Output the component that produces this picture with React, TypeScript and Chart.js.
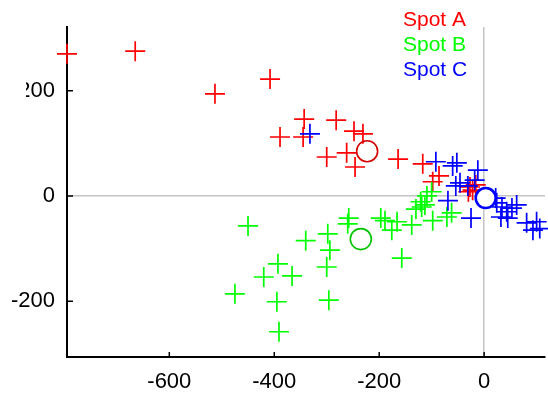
import React, { useEffect, useRef } from "react";
import { Chart, registerables } from "chart.js";

Chart.register(...registerables);

const SERIES_NAMES = ["Spot A", "Spot B", "Spot C"];
const SERIES_COLORS = ["#ff0000", "#00ff00", "#0000ff"];
const MEAN_COLORS = ["#d40000", "#00c400", "#0000e0"];

const X_TICKS = [-600, -400, -200, 0];
const Y_TICKS = [-200, 0, 200];
const X_MIN = -795;
const X_MAX = 116;
const Y_MIN = -306;
const Y_MAX = 321;

const SPOT_A_X = [-795, -665, -513, -408, -343, -282, -389, -345, -248, -231, -300, -262, -246, -164, -117, -86, -98, -27, -22, -16, -30];
const SPOT_A_Y = [270, 275, 194, 222, 146, 144, 112, 112, 123, 118, 74, 82, 55, 70, 61, 38, 27, 17, 11, 21, 8];

const SPOT_B_X = [-475, -450, -420, -393, -395, -391, -366, -340, -298, -294, -300, -296, -258, -260, -197, -189, -166, -176, -157, -138, -121, -113, -109, -100, -119, -98, -71, -62, -130];
const SPOT_B_Y = [-186, -57, -154, -129, -201, -258, -152, -85, -72, -103, -135, -198, -42, -53, -42, -47, -49, -65, -118, -55, -11, -17, 0, 8, -21, -47, -40, -32, -25];

const SPOT_C_X = [-332, -92, -60, -52, -12, -18, -46, -69, -25, -31, -54, 24, 34, 43, 32, 45, 53, 62, 81, 93, 100, 22, 106];
const SPOT_C_Y = [118, 65, 57, 63, 49, 30, 25, -9, -42, 19, 19, -13, -21, -30, -40, -42, -23, -17, -51, -65, -49, -4, -62];

const MEAN_X = [-223, -235, 3];
const MEAN_Y = [85, -82, -4];

const FONT = '"Liberation Sans", Arial, Helvetica, sans-serif';

const toPoints = (xs: number[], ys: number[]) => xs.map((x, i) => ({ x, y: ys[i] }));

const overlayPlugin = {
  id: "overlay",
  afterDraw(chart: any) {
    const { ctx, chartArea: a, scales } = chart;
    ctx.save();
    // inward tick marks
    ctx.strokeStyle = "#000";
    ctx.lineWidth = 1.5;
    ctx.beginPath();
    X_TICKS.forEach((v) => {
      const px = scales.x.getPixelForValue(v);
      ctx.moveTo(px, a.bottom);
      ctx.lineTo(px, a.bottom - 5);
    });
    Y_TICKS.forEach((v) => {
      const py = scales.y.getPixelForValue(v);
      ctx.moveTo(a.left, py);
      ctx.lineTo(a.left + 6, py);
    });
    ctx.stroke();
    // cropped left edge of the figure
    ctx.fillStyle = "#ffffff";
    ctx.fillRect(0, 0, 26, 150);
    // legend (text only)
    ctx.font = `21px ${FONT}`;
    ctx.textAlign = "left";
    ctx.textBaseline = "middle";
    SERIES_NAMES.forEach((name, i) => {
      ctx.fillStyle = SERIES_COLORS[i];
      ctx.fillText(name, 403, 20 + i * 25);
    });
    ctx.restore();
  },
};

export default function App() {
  const ref = useRef<HTMLCanvasElement | null>(null);

  useEffect(() => {
    if (!ref.current) return;
    const crossSets = [
      toPoints(SPOT_A_X, SPOT_A_Y),
      toPoints(SPOT_B_X, SPOT_B_Y),
      toPoints(SPOT_C_X, SPOT_C_Y),
    ];
    const datasets: any[] = [];
    SERIES_NAMES.forEach((name, i) => {
      datasets.push({
        label: name + " mean",
        data: [{ x: MEAN_X[i], y: MEAN_Y[i] }],
        pointStyle: "circle",
        pointRadius: i === 2 ? 10 : 10.5,
        borderColor: i === 2 ? SERIES_COLORS[2] : MEAN_COLORS[i],
        backgroundColor: i === 2 ? "#ffffff" : "rgba(255,255,255,0)",
        borderWidth: i === 2 ? 2.6 : 1.6,
        showLine: false,
        clip: false,
        order: 0,
      });
    });
    SERIES_NAMES.forEach((name, i) => {
      datasets.push({
        label: name,
        data: crossSets[i],
        pointStyle: "cross",
        pointRadius: 10,
        borderColor: SERIES_COLORS[i],
        backgroundColor: SERIES_COLORS[i],
        borderWidth: 1.7,
        showLine: false,
        clip: false,
        order: 3 - i,
      });
    });

    const gridColor = (ctx: any) => (ctx.tick && ctx.tick.value === 0 ? "#c4c4c4" : "rgba(0,0,0,0)");

    const chart = new Chart(ref.current, {
      type: "scatter",
      data: { datasets },
      plugins: [overlayPlugin],
      options: {
        animation: false,
        responsive: false,
        devicePixelRatio: 1,
        events: [],
        layout: { autoPadding: false, padding: { top: 27, right: 3, left: 0, bottom: 0 } },
        plugins: {
          legend: { display: false },
          tooltip: { enabled: false },
          title: { display: false },
        },
        scales: {
          x: {
            type: "linear",
            min: X_MIN,
            max: X_MAX,
            afterBuildTicks: (s: any) => {
              s.ticks = X_TICKS.map((v) => ({ value: v }));
            },
            afterFit: (s: any) => {
              s.height = 39;
              s.paddingLeft = 0;
              s.paddingRight = 0;
            },
            ticks: {
              padding: 12,
              color: "#000",
              font: { family: FONT, size: 22 },
              callback: (v: any) => String(v),
              maxRotation: 0,
            },
            grid: { color: gridColor, lineWidth: 1.5, drawTicks: false },
            border: { display: true, color: "#000", width: 2 },
          },
          y: {
            type: "linear",
            min: Y_MIN,
            max: Y_MAX,
            afterBuildTicks: (s: any) => {
              s.ticks = Y_TICKS.map((v) => ({ value: v }));
            },
            afterFit: (s: any) => {
              s.width = 67;
              s.paddingTop = 0;
              s.paddingBottom = 0;
            },
            ticks: {
              padding: 12,
              color: "#000",
              font: { family: FONT, size: 22 },
              callback: (v: any) => String(v),
            },
            grid: { color: gridColor, lineWidth: 1.5, drawTicks: false },
            border: { display: true, color: "#000", width: 2 },
          },
        },
      },
    } as any);
    return () => chart.destroy();
  }, []);

  return (
    <div style={{ position: "fixed", left: 0, top: 0, width: 548, height: 396, overflow: "hidden", background: "#fff" }}>
      <canvas ref={ref} width={548} height={396} style={{ display: "block", width: 548, height: 396 }} />
    </div>
  );
}
